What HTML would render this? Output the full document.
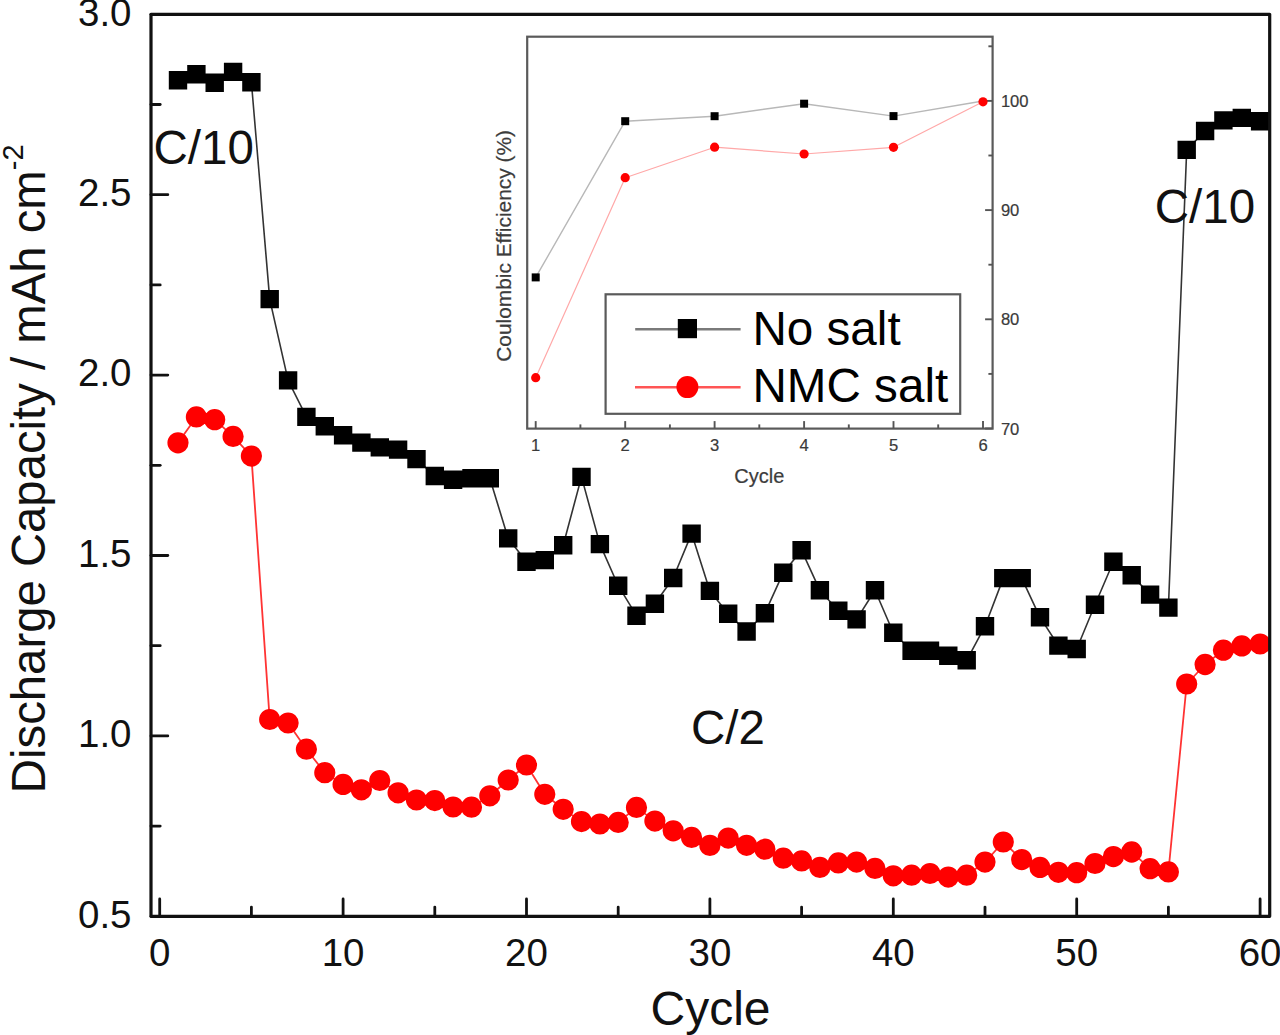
<!DOCTYPE html>
<html><head><meta charset="utf-8"><title>Discharge capacity</title>
<style>
html,body{margin:0;padding:0;background:#fff;}
body{width:1280px;height:1035px;overflow:hidden;}
svg{display:block;}
text{font-family:"Liberation Sans",sans-serif;}
</style></head><body>
<svg width="1280" height="1035" viewBox="0 0 1280 1035">
<rect width="1280" height="1035" fill="#fff"/>
<g clip-path="url(#clipmain)">
<clipPath id="clipmain"><rect x="151.0" y="14.3" width="1118.7" height="902.0"/></clipPath>
<polyline points="178.0,80.2 196.4,74.2 214.7,82.8 233.1,71.9 251.4,82.3 269.7,299.1 288.1,380.4 306.4,416.9 324.8,426.2 343.1,435.3 361.4,442.6 379.8,447.4 398.1,449.6 416.5,459.1 434.8,476.0 453.1,479.8 471.5,478.3 489.8,478.3 508.2,538.4 526.5,561.7 544.8,560.1 563.2,545.2 581.5,476.9 599.9,544.1 618.2,585.7 636.5,615.7 654.9,603.7 673.2,578.0 691.6,533.6 709.9,590.9 728.2,613.8 746.6,631.5 764.9,613.2 783.3,572.7 801.6,550.3 819.9,590.3 838.3,610.8 856.6,619.4 875.0,590.3 893.3,632.7 911.6,650.7 930.0,650.7 948.3,655.7 966.7,660.3 985.0,626.2 1003.3,578.1 1021.7,578.1 1040.0,617.3 1058.4,645.6 1076.7,649.0 1095.0,604.7 1113.4,561.8 1131.7,575.3 1150.1,594.6 1168.4,607.6 1186.7,149.9 1205.1,131.0 1223.4,120.4 1241.8,117.9 1260.1,121.2" fill="none" stroke="#333" stroke-width="1.6" stroke-linejoin="round"/>
<polyline points="178.0,442.8 196.4,416.9 214.7,419.7 233.1,436.4 251.4,456.1 269.7,719.5 288.1,723.0 306.4,749.2 324.8,772.7 343.1,784.4 361.4,789.8 379.8,780.5 398.1,792.8 416.5,800.0 434.8,800.6 453.1,807.0 471.5,807.2 489.8,795.8 508.2,780.0 526.5,765.0 544.8,794.3 563.2,809.3 581.5,821.6 599.9,824.0 618.2,822.4 636.5,807.4 654.9,821.1 673.2,830.8 691.6,837.4 709.9,845.4 728.2,838.1 746.6,845.3 764.9,849.2 783.3,858.2 801.6,860.9 819.9,867.4 838.3,862.9 856.6,862.1 875.0,868.4 893.3,875.8 911.6,875.2 930.0,873.5 948.3,877.1 966.7,875.2 985.0,862.1 1003.3,842.0 1021.7,859.6 1040.0,867.4 1058.4,872.3 1076.7,872.7 1095.0,863.5 1113.4,856.6 1131.7,852.0 1150.1,868.7 1168.4,871.9 1186.7,684.0 1205.1,664.5 1223.4,650.2 1241.8,645.9 1260.1,644.0" fill="none" stroke="#f33" stroke-width="1.8" stroke-linejoin="round"/>
<path d="M168.8 71.0h18.4v18.4h-18.4zM187.2 65.0h18.4v18.4h-18.4zM205.5 73.6h18.4v18.4h-18.4zM223.9 62.7h18.4v18.4h-18.4zM242.2 73.1h18.4v18.4h-18.4zM260.5 289.9h18.4v18.4h-18.4zM278.9 371.2h18.4v18.4h-18.4zM297.2 407.7h18.4v18.4h-18.4zM315.6 417.0h18.4v18.4h-18.4zM333.9 426.1h18.4v18.4h-18.4zM352.2 433.4h18.4v18.4h-18.4zM370.6 438.2h18.4v18.4h-18.4zM388.9 440.4h18.4v18.4h-18.4zM407.3 449.9h18.4v18.4h-18.4zM425.6 466.8h18.4v18.4h-18.4zM443.9 470.6h18.4v18.4h-18.4zM462.3 469.1h18.4v18.4h-18.4zM480.6 469.1h18.4v18.4h-18.4zM499.0 529.2h18.4v18.4h-18.4zM517.3 552.5h18.4v18.4h-18.4zM535.6 550.9h18.4v18.4h-18.4zM554.0 536.0h18.4v18.4h-18.4zM572.3 467.7h18.4v18.4h-18.4zM590.7 534.9h18.4v18.4h-18.4zM609.0 576.5h18.4v18.4h-18.4zM627.3 606.5h18.4v18.4h-18.4zM645.7 594.5h18.4v18.4h-18.4zM664.0 568.8h18.4v18.4h-18.4zM682.4 524.4h18.4v18.4h-18.4zM700.7 581.7h18.4v18.4h-18.4zM719.0 604.6h18.4v18.4h-18.4zM737.4 622.3h18.4v18.4h-18.4zM755.7 604.0h18.4v18.4h-18.4zM774.1 563.5h18.4v18.4h-18.4zM792.4 541.1h18.4v18.4h-18.4zM810.7 581.1h18.4v18.4h-18.4zM829.1 601.6h18.4v18.4h-18.4zM847.4 610.2h18.4v18.4h-18.4zM865.8 581.1h18.4v18.4h-18.4zM884.1 623.5h18.4v18.4h-18.4zM902.4 641.5h18.4v18.4h-18.4zM920.8 641.5h18.4v18.4h-18.4zM939.1 646.5h18.4v18.4h-18.4zM957.5 651.1h18.4v18.4h-18.4zM975.8 617.0h18.4v18.4h-18.4zM994.1 568.9h18.4v18.4h-18.4zM1012.5 568.9h18.4v18.4h-18.4zM1030.8 608.1h18.4v18.4h-18.4zM1049.2 636.4h18.4v18.4h-18.4zM1067.5 639.8h18.4v18.4h-18.4zM1085.8 595.5h18.4v18.4h-18.4zM1104.2 552.6h18.4v18.4h-18.4zM1122.5 566.1h18.4v18.4h-18.4zM1140.9 585.4h18.4v18.4h-18.4zM1159.2 598.4h18.4v18.4h-18.4zM1177.5 140.7h18.4v18.4h-18.4zM1195.9 121.8h18.4v18.4h-18.4zM1214.2 111.2h18.4v18.4h-18.4zM1232.6 108.7h18.4v18.4h-18.4zM1250.9 112.0h18.4v18.4h-18.4z" fill="#000"/>
<path d="M167.4 442.8a10.6 10.6 0 1 0 21.2 0a10.6 10.6 0 1 0 -21.2 0zM185.8 416.9a10.6 10.6 0 1 0 21.2 0a10.6 10.6 0 1 0 -21.2 0zM204.1 419.7a10.6 10.6 0 1 0 21.2 0a10.6 10.6 0 1 0 -21.2 0zM222.5 436.4a10.6 10.6 0 1 0 21.2 0a10.6 10.6 0 1 0 -21.2 0zM240.8 456.1a10.6 10.6 0 1 0 21.2 0a10.6 10.6 0 1 0 -21.2 0zM259.1 719.5a10.6 10.6 0 1 0 21.2 0a10.6 10.6 0 1 0 -21.2 0zM277.5 723.0a10.6 10.6 0 1 0 21.2 0a10.6 10.6 0 1 0 -21.2 0zM295.8 749.2a10.6 10.6 0 1 0 21.2 0a10.6 10.6 0 1 0 -21.2 0zM314.2 772.7a10.6 10.6 0 1 0 21.2 0a10.6 10.6 0 1 0 -21.2 0zM332.5 784.4a10.6 10.6 0 1 0 21.2 0a10.6 10.6 0 1 0 -21.2 0zM350.8 789.8a10.6 10.6 0 1 0 21.2 0a10.6 10.6 0 1 0 -21.2 0zM369.2 780.5a10.6 10.6 0 1 0 21.2 0a10.6 10.6 0 1 0 -21.2 0zM387.5 792.8a10.6 10.6 0 1 0 21.2 0a10.6 10.6 0 1 0 -21.2 0zM405.9 800.0a10.6 10.6 0 1 0 21.2 0a10.6 10.6 0 1 0 -21.2 0zM424.2 800.6a10.6 10.6 0 1 0 21.2 0a10.6 10.6 0 1 0 -21.2 0zM442.5 807.0a10.6 10.6 0 1 0 21.2 0a10.6 10.6 0 1 0 -21.2 0zM460.9 807.2a10.6 10.6 0 1 0 21.2 0a10.6 10.6 0 1 0 -21.2 0zM479.2 795.8a10.6 10.6 0 1 0 21.2 0a10.6 10.6 0 1 0 -21.2 0zM497.6 780.0a10.6 10.6 0 1 0 21.2 0a10.6 10.6 0 1 0 -21.2 0zM515.9 765.0a10.6 10.6 0 1 0 21.2 0a10.6 10.6 0 1 0 -21.2 0zM534.2 794.3a10.6 10.6 0 1 0 21.2 0a10.6 10.6 0 1 0 -21.2 0zM552.6 809.3a10.6 10.6 0 1 0 21.2 0a10.6 10.6 0 1 0 -21.2 0zM570.9 821.6a10.6 10.6 0 1 0 21.2 0a10.6 10.6 0 1 0 -21.2 0zM589.3 824.0a10.6 10.6 0 1 0 21.2 0a10.6 10.6 0 1 0 -21.2 0zM607.6 822.4a10.6 10.6 0 1 0 21.2 0a10.6 10.6 0 1 0 -21.2 0zM625.9 807.4a10.6 10.6 0 1 0 21.2 0a10.6 10.6 0 1 0 -21.2 0zM644.3 821.1a10.6 10.6 0 1 0 21.2 0a10.6 10.6 0 1 0 -21.2 0zM662.6 830.8a10.6 10.6 0 1 0 21.2 0a10.6 10.6 0 1 0 -21.2 0zM681.0 837.4a10.6 10.6 0 1 0 21.2 0a10.6 10.6 0 1 0 -21.2 0zM699.3 845.4a10.6 10.6 0 1 0 21.2 0a10.6 10.6 0 1 0 -21.2 0zM717.6 838.1a10.6 10.6 0 1 0 21.2 0a10.6 10.6 0 1 0 -21.2 0zM736.0 845.3a10.6 10.6 0 1 0 21.2 0a10.6 10.6 0 1 0 -21.2 0zM754.3 849.2a10.6 10.6 0 1 0 21.2 0a10.6 10.6 0 1 0 -21.2 0zM772.7 858.2a10.6 10.6 0 1 0 21.2 0a10.6 10.6 0 1 0 -21.2 0zM791.0 860.9a10.6 10.6 0 1 0 21.2 0a10.6 10.6 0 1 0 -21.2 0zM809.3 867.4a10.6 10.6 0 1 0 21.2 0a10.6 10.6 0 1 0 -21.2 0zM827.7 862.9a10.6 10.6 0 1 0 21.2 0a10.6 10.6 0 1 0 -21.2 0zM846.0 862.1a10.6 10.6 0 1 0 21.2 0a10.6 10.6 0 1 0 -21.2 0zM864.4 868.4a10.6 10.6 0 1 0 21.2 0a10.6 10.6 0 1 0 -21.2 0zM882.7 875.8a10.6 10.6 0 1 0 21.2 0a10.6 10.6 0 1 0 -21.2 0zM901.0 875.2a10.6 10.6 0 1 0 21.2 0a10.6 10.6 0 1 0 -21.2 0zM919.4 873.5a10.6 10.6 0 1 0 21.2 0a10.6 10.6 0 1 0 -21.2 0zM937.7 877.1a10.6 10.6 0 1 0 21.2 0a10.6 10.6 0 1 0 -21.2 0zM956.1 875.2a10.6 10.6 0 1 0 21.2 0a10.6 10.6 0 1 0 -21.2 0zM974.4 862.1a10.6 10.6 0 1 0 21.2 0a10.6 10.6 0 1 0 -21.2 0zM992.7 842.0a10.6 10.6 0 1 0 21.2 0a10.6 10.6 0 1 0 -21.2 0zM1011.1 859.6a10.6 10.6 0 1 0 21.2 0a10.6 10.6 0 1 0 -21.2 0zM1029.4 867.4a10.6 10.6 0 1 0 21.2 0a10.6 10.6 0 1 0 -21.2 0zM1047.8 872.3a10.6 10.6 0 1 0 21.2 0a10.6 10.6 0 1 0 -21.2 0zM1066.1 872.7a10.6 10.6 0 1 0 21.2 0a10.6 10.6 0 1 0 -21.2 0zM1084.4 863.5a10.6 10.6 0 1 0 21.2 0a10.6 10.6 0 1 0 -21.2 0zM1102.8 856.6a10.6 10.6 0 1 0 21.2 0a10.6 10.6 0 1 0 -21.2 0zM1121.1 852.0a10.6 10.6 0 1 0 21.2 0a10.6 10.6 0 1 0 -21.2 0zM1139.5 868.7a10.6 10.6 0 1 0 21.2 0a10.6 10.6 0 1 0 -21.2 0zM1157.8 871.9a10.6 10.6 0 1 0 21.2 0a10.6 10.6 0 1 0 -21.2 0zM1176.1 684.0a10.6 10.6 0 1 0 21.2 0a10.6 10.6 0 1 0 -21.2 0zM1194.5 664.5a10.6 10.6 0 1 0 21.2 0a10.6 10.6 0 1 0 -21.2 0zM1212.8 650.2a10.6 10.6 0 1 0 21.2 0a10.6 10.6 0 1 0 -21.2 0zM1231.2 645.9a10.6 10.6 0 1 0 21.2 0a10.6 10.6 0 1 0 -21.2 0zM1249.5 644.0a10.6 10.6 0 1 0 21.2 0a10.6 10.6 0 1 0 -21.2 0z" fill="#f00"/>
</g>
<g>
<rect x="527.2" y="36.7" width="465.4" height="391.9" fill="#fff" stroke="#5a5a5a" stroke-width="2.2"/>
<line x1="535.7" y1="428.6" x2="535.7" y2="421.1" stroke="#555" stroke-width="1.9"/>
<line x1="580.4" y1="428.6" x2="580.4" y2="424.4" stroke="#555" stroke-width="1.9"/>
<text x="535.7" y="451.2" font-size="16.6" fill="#3a3a3a" stroke="#3a3a3a" stroke-width="0.2" text-anchor="middle">1</text>
<line x1="625.2" y1="428.6" x2="625.2" y2="421.1" stroke="#555" stroke-width="1.9"/>
<line x1="669.9" y1="428.6" x2="669.9" y2="424.4" stroke="#555" stroke-width="1.9"/>
<text x="625.2" y="451.2" font-size="16.6" fill="#3a3a3a" stroke="#3a3a3a" stroke-width="0.2" text-anchor="middle">2</text>
<line x1="714.6" y1="428.6" x2="714.6" y2="421.1" stroke="#555" stroke-width="1.9"/>
<line x1="759.3" y1="428.6" x2="759.3" y2="424.4" stroke="#555" stroke-width="1.9"/>
<text x="714.6" y="451.2" font-size="16.6" fill="#3a3a3a" stroke="#3a3a3a" stroke-width="0.2" text-anchor="middle">3</text>
<line x1="804.1" y1="428.6" x2="804.1" y2="421.1" stroke="#555" stroke-width="1.9"/>
<line x1="848.8" y1="428.6" x2="848.8" y2="424.4" stroke="#555" stroke-width="1.9"/>
<text x="804.1" y="451.2" font-size="16.6" fill="#3a3a3a" stroke="#3a3a3a" stroke-width="0.2" text-anchor="middle">4</text>
<line x1="893.5" y1="428.6" x2="893.5" y2="421.1" stroke="#555" stroke-width="1.9"/>
<line x1="938.2" y1="428.6" x2="938.2" y2="424.4" stroke="#555" stroke-width="1.9"/>
<text x="893.5" y="451.2" font-size="16.6" fill="#3a3a3a" stroke="#3a3a3a" stroke-width="0.2" text-anchor="middle">5</text>
<line x1="983.0" y1="428.6" x2="983.0" y2="421.1" stroke="#555" stroke-width="1.9"/>
<text x="983.0" y="451.2" font-size="16.6" fill="#3a3a3a" stroke="#3a3a3a" stroke-width="0.2" text-anchor="middle">6</text>
<line x1="992.6" y1="428.5" x2="985.1" y2="428.5" stroke="#555" stroke-width="1.9"/>
<text x="1000.9" y="434.6" font-size="16.6" fill="#3a3a3a" stroke="#3a3a3a" stroke-width="0.2">70</text>
<line x1="992.6" y1="319.3" x2="985.1" y2="319.3" stroke="#555" stroke-width="1.9"/>
<text x="1000.9" y="325.4" font-size="16.6" fill="#3a3a3a" stroke="#3a3a3a" stroke-width="0.2">80</text>
<line x1="992.6" y1="210.1" x2="985.1" y2="210.1" stroke="#555" stroke-width="1.9"/>
<text x="1000.9" y="216.2" font-size="16.6" fill="#3a3a3a" stroke="#3a3a3a" stroke-width="0.2">90</text>
<line x1="992.6" y1="100.9" x2="985.1" y2="100.9" stroke="#555" stroke-width="1.9"/>
<text x="1000.9" y="107.0" font-size="16.6" fill="#3a3a3a" stroke="#3a3a3a" stroke-width="0.2">100</text>
<line x1="992.6" y1="373.9" x2="988.4" y2="373.9" stroke="#555" stroke-width="1.9"/>
<line x1="992.6" y1="264.7" x2="988.4" y2="264.7" stroke="#555" stroke-width="1.9"/>
<line x1="992.6" y1="155.5" x2="988.4" y2="155.5" stroke="#555" stroke-width="1.9"/>
<line x1="992.6" y1="46.3" x2="988.4" y2="46.3" stroke="#555" stroke-width="1.9"/>
<polyline points="535.7,277.4 625.2,121.2 714.6,116.2 804.1,103.7 893.5,116.1 983.0,101.0" fill="none" stroke="#b8b8b8" stroke-width="1.4" stroke-linejoin="round"/>
<polyline points="535.7,377.7 625.2,177.7 714.6,147.2 804.1,154.0 893.5,147.3 983.0,101.8" fill="none" stroke="#ffa8a8" stroke-width="1.2" stroke-linejoin="round"/>
<rect x="531.7" y="273.4" width="8" height="8" fill="#000"/>
<rect x="621.2" y="117.2" width="8" height="8" fill="#000"/>
<rect x="710.6" y="112.2" width="8" height="8" fill="#000"/>
<rect x="800.1" y="99.7" width="8" height="8" fill="#000"/>
<rect x="889.5" y="112.1" width="8" height="8" fill="#000"/>
<circle cx="535.7" cy="377.7" r="4.6" fill="#f00"/>
<circle cx="625.2" cy="177.7" r="4.6" fill="#f00"/>
<circle cx="714.6" cy="147.2" r="4.6" fill="#f00"/>
<circle cx="804.1" cy="154.0" r="4.6" fill="#f00"/>
<circle cx="893.5" cy="147.3" r="4.6" fill="#f00"/>
<circle cx="983.0" cy="101.8" r="4.6" fill="#f00"/>
<text x="759.3" y="482.7" font-size="20" fill="#3c3c3c" stroke="#3c3c3c" stroke-width="0.2" text-anchor="middle">Cycle</text>
<text transform="translate(510.6,245.9) rotate(-90)" font-size="20.9" fill="#3c3c3c" stroke="#3c3c3c" stroke-width="0.2" text-anchor="middle">Coulombic Efficiency (%)</text>
<rect x="605.6" y="294.3" width="354.6" height="119.5" fill="#fff" stroke="#5a5a5a" stroke-width="2.2"/>
<line x1="635.2" y1="329.2" x2="740.6" y2="329.2" stroke="#7a7a7a" stroke-width="2.4"/>
<rect x="677.8" y="319" width="19.2" height="19.2" fill="#000"/>
<line x1="635" y1="387.2" x2="740.6" y2="387.2" stroke="#f55" stroke-width="2.4"/>
<circle cx="687.4" cy="387.1" r="11" fill="#f00"/>
<text x="752.5" y="344.7" font-size="47.6" fill="#000">No salt</text>
<text x="752.5" y="402.3" font-size="47.6" fill="#000">NMC salt</text>
</g>
<rect x="151.0" y="14.3" width="1118.7" height="902.0" fill="none" stroke="#111" stroke-width="3.2" stroke-linejoin="round"/>
<line x1="159.7" y1="916.3" x2="159.7" y2="899.0" stroke="#111" stroke-width="2.8" stroke-linecap="round"/>
<text x="159.7" y="966" font-size="38.5" fill="#111" text-anchor="middle">0</text>
<line x1="251.4" y1="916.3" x2="251.4" y2="907.1" stroke="#111" stroke-width="2.8" stroke-linecap="round"/>
<line x1="343.1" y1="916.3" x2="343.1" y2="899.0" stroke="#111" stroke-width="2.8" stroke-linecap="round"/>
<text x="343.1" y="966" font-size="38.5" fill="#111" text-anchor="middle">10</text>
<line x1="434.8" y1="916.3" x2="434.8" y2="907.1" stroke="#111" stroke-width="2.8" stroke-linecap="round"/>
<line x1="526.5" y1="916.3" x2="526.5" y2="899.0" stroke="#111" stroke-width="2.8" stroke-linecap="round"/>
<text x="526.5" y="966" font-size="38.5" fill="#111" text-anchor="middle">20</text>
<line x1="618.2" y1="916.3" x2="618.2" y2="907.1" stroke="#111" stroke-width="2.8" stroke-linecap="round"/>
<line x1="709.9" y1="916.3" x2="709.9" y2="899.0" stroke="#111" stroke-width="2.8" stroke-linecap="round"/>
<text x="709.9" y="966" font-size="38.5" fill="#111" text-anchor="middle">30</text>
<line x1="801.6" y1="916.3" x2="801.6" y2="907.1" stroke="#111" stroke-width="2.8" stroke-linecap="round"/>
<line x1="893.3" y1="916.3" x2="893.3" y2="899.0" stroke="#111" stroke-width="2.8" stroke-linecap="round"/>
<text x="893.3" y="966" font-size="38.5" fill="#111" text-anchor="middle">40</text>
<line x1="985.0" y1="916.3" x2="985.0" y2="907.1" stroke="#111" stroke-width="2.8" stroke-linecap="round"/>
<line x1="1076.7" y1="916.3" x2="1076.7" y2="899.0" stroke="#111" stroke-width="2.8" stroke-linecap="round"/>
<text x="1076.7" y="966" font-size="38.5" fill="#111" text-anchor="middle">50</text>
<line x1="1168.4" y1="916.3" x2="1168.4" y2="907.1" stroke="#111" stroke-width="2.8" stroke-linecap="round"/>
<line x1="1260.1" y1="916.3" x2="1260.1" y2="899.0" stroke="#111" stroke-width="2.8" stroke-linecap="round"/>
<text x="1260.1" y="966" font-size="38.5" fill="#111" text-anchor="middle">60</text>
<line x1="151.0" y1="916.3" x2="167.8" y2="916.3" stroke="#111" stroke-width="2.8" stroke-linecap="round"/>
<text x="131.5" y="927.6" font-size="38.5" fill="#111" text-anchor="end">0.5</text>
<line x1="151.0" y1="826.1" x2="160.2" y2="826.1" stroke="#111" stroke-width="2.8" stroke-linecap="round"/>
<line x1="151.0" y1="735.9" x2="167.8" y2="735.9" stroke="#111" stroke-width="2.8" stroke-linecap="round"/>
<text x="131.5" y="747.2" font-size="38.5" fill="#111" text-anchor="end">1.0</text>
<line x1="151.0" y1="645.7" x2="160.2" y2="645.7" stroke="#111" stroke-width="2.8" stroke-linecap="round"/>
<line x1="151.0" y1="555.5" x2="167.8" y2="555.5" stroke="#111" stroke-width="2.8" stroke-linecap="round"/>
<text x="131.5" y="566.8" font-size="38.5" fill="#111" text-anchor="end">1.5</text>
<line x1="151.0" y1="465.3" x2="160.2" y2="465.3" stroke="#111" stroke-width="2.8" stroke-linecap="round"/>
<line x1="151.0" y1="375.1" x2="167.8" y2="375.1" stroke="#111" stroke-width="2.8" stroke-linecap="round"/>
<text x="131.5" y="386.4" font-size="38.5" fill="#111" text-anchor="end">2.0</text>
<line x1="151.0" y1="284.9" x2="160.2" y2="284.9" stroke="#111" stroke-width="2.8" stroke-linecap="round"/>
<line x1="151.0" y1="194.7" x2="167.8" y2="194.7" stroke="#111" stroke-width="2.8" stroke-linecap="round"/>
<text x="131.5" y="206.0" font-size="38.5" fill="#111" text-anchor="end">2.5</text>
<line x1="151.0" y1="104.5" x2="160.2" y2="104.5" stroke="#111" stroke-width="2.8" stroke-linecap="round"/>
<line x1="151.0" y1="14.3" x2="167.8" y2="14.3" stroke="#111" stroke-width="2.8" stroke-linecap="round"/>
<text x="131.5" y="25.6" font-size="38.5" fill="#111" text-anchor="end">3.0</text>
<text x="710.5" y="1024.7" font-size="48" fill="#111" text-anchor="middle">Cycle</text>
<text transform="translate(44.8,468.8) rotate(-90)" font-size="47.3" fill="#111" text-anchor="middle">Discharge Capacity / mAh cm<tspan font-size="29" dy="-22">-2</tspan></text>
<text x="153.5" y="163.5" font-size="47.5" fill="#111">C/10</text>
<text x="1154.8" y="222.8" font-size="47.5" fill="#111">C/10</text>
<text x="691" y="744.2" font-size="47.5" fill="#111">C/2</text>
</svg>
</body></html>
